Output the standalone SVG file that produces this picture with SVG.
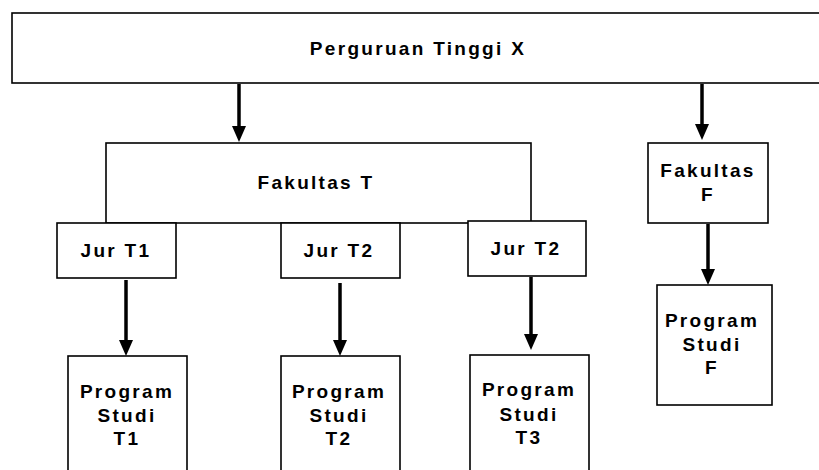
<svg xmlns="http://www.w3.org/2000/svg" width="819" height="470" viewBox="0 0 819 470">
<defs>
<style>
.box{fill:#fff;stroke:#000;stroke-width:1.6}
.t{font-family:"Liberation Sans",Arial,sans-serif;font-weight:bold;font-size:19px;letter-spacing:2.3px;fill:#000;text-anchor:middle}
.c{stroke:#000;stroke-width:3.5;fill:none}
</style>
<marker id="ah" markerUnits="userSpaceOnUse" markerWidth="16" markerHeight="14" refX="0" refY="7" orient="auto" viewBox="0 0 16 14">
<path d="M0,0 L16,7 L0,14 z" fill="#000"/>
</marker>
</defs>
<rect width="819" height="470" fill="#fff"/>
<g id="perguruan-tinggi-x">
<rect class="box" x="12" y="13" width="830" height="70"/>
<text class="t" x="418" y="55">Perguruan Tinggi X</text>
</g>
<g id="fakultas-t">
<rect class="box" x="106" y="143" width="425" height="80"/>
<text class="t" x="316" y="189">Fakultas T</text>
</g>
<g id="fakultas-f">
<rect class="box" x="648" y="143" width="120" height="80"/>
<text class="t" x="708" y="177">Fakultas</text>
<text class="t" x="708" y="201">F</text>
</g>
<g id="jur-t1">
<rect class="box" x="57" y="223" width="119" height="55"/>
<text class="t" x="116" y="257">Jur T1</text>
</g>
<g id="jur-t2a">
<rect class="box" x="281" y="223" width="119" height="55"/>
<text class="t" x="339" y="257">Jur T2</text>
</g>
<g id="jur-t2b">
<rect class="box" x="468" y="221" width="118" height="55"/>
<text class="t" x="526" y="255">Jur T2</text>
</g>
<g id="prodi-t1">
<rect class="box" x="68" y="356" width="119" height="130"/>
<text class="t" x="127" y="398">Program</text>
<text class="t" x="127" y="422">Studi</text>
<text class="t" x="127" y="445">T1</text>
</g>
<g id="prodi-t2">
<rect class="box" x="281" y="356" width="119" height="130"/>
<text class="t" x="339" y="398">Program</text>
<text class="t" x="339" y="422">Studi</text>
<text class="t" x="339" y="445">T2</text>
</g>
<g id="prodi-t3">
<rect class="box" x="470" y="355" width="119" height="130"/>
<text class="t" x="529" y="396">Program</text>
<text class="t" x="529" y="421">Studi</text>
<text class="t" x="529" y="444">T3</text>
</g>
<g id="prodi-f">
<rect class="box" x="657" y="285" width="115" height="120"/>
<text class="t" x="712" y="327">Program</text>
<text class="t" x="712" y="351">Studi</text>
<text class="t" x="712" y="374">F</text>
</g>
<g id="connectors">
<path class="c" d="M239,84 V126" marker-end="url(#ah)"/>
<path class="c" d="M702,84 V124" marker-end="url(#ah)"/>
<path class="c" d="M126,280 V340" marker-end="url(#ah)"/>
<path class="c" d="M340,283 V340" marker-end="url(#ah)"/>
<path class="c" d="M531,277 V334" marker-end="url(#ah)"/>
<path class="c" d="M708,224 V269" marker-end="url(#ah)"/>
</g>
</svg>
